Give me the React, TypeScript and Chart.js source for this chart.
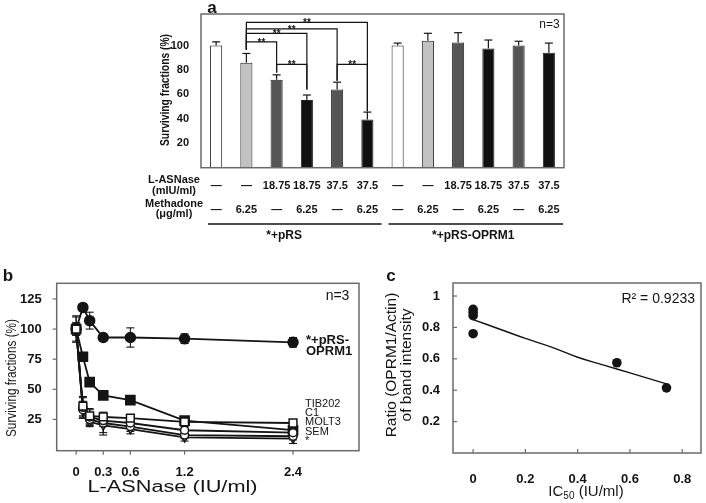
import React, { useEffect, useRef } from 'react';
import { Chart, registerables } from 'chart.js';

Chart.register(...registerables);

const FONT = '"Liberation Sans", Arial, Helvetica, sans-serif';
const W = 706;
const H = 503;
const INK = '#141414';

// ---------------- panel a ----------------
const aCategories = [
  'pRS ctrl', 'pRS Met', 'pRS ASN18.75', 'pRS ASN18.75+Met', 'pRS ASN37.5', 'pRS ASN37.5+Met',
  'OPRM1 ctrl', 'OPRM1 Met', 'OPRM1 ASN18.75', 'OPRM1 ASN18.75+Met', 'OPRM1 ASN37.5', 'OPRM1 ASN37.5+Met',
];
const aValues = [100, 86, 72, 55.5, 64, 39.5, 100, 104, 102.5, 97.5, 100, 94];
const aErrors = [3, 7.5, 4, 4, 6, 6, 2, 6, 8, 7, 3.5, 8];
const aColors = ['#ffffff', '#c2c2c2', '#555555', '#111111', '#555555', '#111111', '#ffffff', '#c2c2c2', '#555555', '#111111', '#555555', '#111111'];
const aAsnase = ['—', '—', '18.75', '18.75', '37.5', '37.5', '—', '—', '18.75', '18.75', '37.5', '37.5'];
const aMethadone = ['—', '6.25', '—', '6.25', '—', '6.25', '—', '6.25', '—', '6.25', '—', '6.25'];
const aYTicks = [20, 40, 60, 80, 100];
const aGroups = ['*+pRS', '*+pRS-OPRM1'];
// significance brackets (category index, value levels)
const aBracketFrom = [1, 1, 1, 1, 2, 4];
const aBracketTo = [2, 3, 4, 5, 3, 5];
const aBracketLevel = [103, 110, 113.7, 119, 84.5, 84.5];
const aBracketFromEnd = [96.5, 96.5, 96.5, 96.5, 78, 71];
const aBracketToEnd = [78, 64, 71.4, 46.3, 64, 46.3];

// ---------------- panel b ----------------
const bDoses = [0, 0.075, 0.15, 0.3, 0.6, 1.2, 2.4];
const bXTicks = [0, 0.3, 0.6, 1.2, 2.4];
const bYTicks = [25, 50, 75, 100, 125];
const bOPRM1 = [100, 118, 107, 93, 93, 92, 89];
const bOPRM1Err = [11, 3, 7, 3, 8, 4, 4];
const bParent = [100, 77, 56, 45, 41, 24, 16];
const bParentErr = [3, 3, 3, 2, 3, 2, 3];
const bTIB202 = [100, 36, 28, 27, 26, 23, 22];
const bTIB202Err = [10, 8, 6, 4, 3, 2, 2];
const bC1 = [100, 35, 27, 24, 22, 16, 14];
const bC1Err = [5, 8, 6, 5, 4, 3, 3];
const bMOLT3 = [100, 33, 25, 22, 19, 12, 11];
const bMOLT3Err = [5, 7, 5, 8, 4, 3, 3];
const bSEM = [100, 32, 23, 20, 17, 10, 9];
const bSEMErr = [5, 6, 4, 8, 4, 3, 4];
const bLineLabels = ['TIB202', 'C1', 'MOLT3', 'SEM', '*'];

// ---------------- panel c ----------------
const cIC50 = [0, 0, 0, 0, 0.55, 0.74];
const cRatio = [0.915, 0.895, 0.875, 0.76, 0.575, 0.415];
const cFitX = [0, 0.1, 0.2, 0.3, 0.4, 0.5, 0.6, 0.74];
const cFitY = [0.85, 0.79, 0.73, 0.675, 0.61, 0.56, 0.51, 0.44];
const cXTicks = [0, 0.2, 0.4, 0.6, 0.8];
const cYTicks = [0.2, 0.4, 0.6, 0.8, 1];

// ---------------- helpers ----------------
function seg(ctx: any, x1: number, y1: number, x2: number, y2: number) {
  ctx.beginPath();
  ctx.moveTo(x1, y1);
  ctx.lineTo(x2, y2);
  ctx.stroke();
}

function txt(ctx: any, s: string, x: number, y: number, font: string, opts: any = {}) {
  const { align = 'center', baseline = 'middle', width = 0, rot = 0, color = INK } = opts;
  ctx.save();
  ctx.font = font;
  ctx.fillStyle = color;
  ctx.textAlign = align;
  ctx.textBaseline = baseline;
  ctx.translate(x, y);
  if (rot) ctx.rotate(rot);
  if (width) {
    const m = ctx.measureText(s).width;
    if (m > 0) ctx.scale(width / m, 1);
  }
  ctx.fillText(s, 0, 0);
  ctx.restore();
}

function box(ctx: any, ar: any) {
  ctx.save();
  ctx.strokeStyle = '#6a6a6a';
  ctx.lineWidth = 1.5;
  ctx.strokeRect(ar.left, ar.top, ar.right - ar.left, ar.bottom - ar.top);
  ctx.restore();
}

const setTicks = (vals: number[]) => (scale: any) => {
  scale.ticks = vals.map((v) => ({ value: v }));
};

const noGrid = { display: false };
const noBorder = { display: false };

// ---------------- plugins ----------------
const aPlugin = {
  id: 'aPlugin',
  afterDatasetsDraw(chart: any) {
    const { ctx, chartArea: ar } = chart;
    const xs = chart.scales.x;
    const ys = chart.scales.y;
    const X = (i: number) => xs.getPixelForValue(i);
    const Y = (v: number) => ys.getPixelForValue(v);
    ctx.save();
    ctx.strokeStyle = INK;
    ctx.lineWidth = 1.2;
    aValues.forEach((v, i) => {
      const px = X(i);
      const t = Y(v + aErrors[i]);
      seg(ctx, px, Y(v), px, t);
      seg(ctx, px - 4, t, px + 4, t);
    });
    aBracketFrom.forEach((f, k) => {
      const x1 = X(f);
      const x2 = X(aBracketTo[k]);
      const h = Y(aBracketLevel[k]);
      ctx.beginPath();
      ctx.moveTo(x1, Y(aBracketFromEnd[k]));
      ctx.lineTo(x1, h);
      ctx.lineTo(x2, h);
      ctx.lineTo(x2, Y(aBracketToEnd[k]));
      ctx.stroke();
      txt(ctx, '**', (x1 + x2) / 2, h + 4, 'bold 10px ' + FONT, { baseline: 'alphabetic' });
    });
    ctx.restore();
    box(ctx, ar);

    // labels
    txt(ctx, 'a', 212, 8, 'bold 17px ' + FONT);
    txt(ctx, 'n=3', 549.5, 25, '12px ' + FONT);
    txt(ctx, 'Surviving fractions (%)', 166, 90, 'bold 12px ' + FONT, { rot: -Math.PI / 2, width: 112 });

    // table
    const f11 = 'bold 11px ' + FONT;
    txt(ctx, 'L-ASNase', 174, 180, f11);
    txt(ctx, '(mIU/ml)', 174, 191, f11);
    txt(ctx, 'Methadone', 174, 203.5, f11);
    txt(ctx, '(μg/ml)', 174, 213.5, f11);
    aAsnase.forEach((s, i) => txt(ctx, s, X(i), 185.5, f11));
    aMethadone.forEach((s, i) => txt(ctx, s, X(i), 210, f11));
    ctx.save();
    ctx.strokeStyle = INK;
    ctx.lineWidth = 1.5;
    const step = X(1) - X(0);
    seg(ctx, X(0) - 0.27 * step, 224, X(5) + 0.47 * step, 224);
    seg(ctx, X(6) - 0.3 * step, 224, X(11) + 0.47 * step, 224);
    ctx.restore();
    txt(ctx, aGroups[0], X(2.25), 236, 'bold 12px ' + FONT);
    txt(ctx, aGroups[1], X(8.5), 236, 'bold 12px ' + FONT);
  },
};

const bErrSets = [bTIB202Err, bC1Err, bMOLT3Err, bSEMErr, bOPRM1Err, bParentErr];
const bPlugin = {
  id: 'bPlugin',
  beforeDatasetsDraw(chart: any) {
    const { ctx } = chart;
    const xs = chart.scales.x;
    const ys = chart.scales.y;
    ctx.save();
    ctx.strokeStyle = INK;
    ctx.lineWidth = 1.1;
    chart.data.datasets.forEach((ds: any, k: number) => {
      const errs = bErrSets[k];
      ds.data.forEach((p: any, i: number) => {
        const px = xs.getPixelForValue(p.x);
        const lo = ys.getPixelForValue(p.y - errs[i]);
        const hi = ys.getPixelForValue(p.y + errs[i]);
        seg(ctx, px, lo, px, hi);
        seg(ctx, px - 4, lo, px + 4, lo);
        seg(ctx, px - 4, hi, px + 4, hi);
      });
    });
    ctx.restore();
  },
  afterDatasetsDraw(chart: any) {
    const { ctx, chartArea: ar } = chart;
    const xs = chart.scales.x;
    const ys = chart.scales.y;
    box(ctx, ar);
    ctx.save();
    ctx.strokeStyle = '#6a6a6a';
    ctx.lineWidth = 1.2;
    bXTicks.forEach((v) => {
      const px = xs.getPixelForValue(v);
      seg(ctx, px, ar.bottom, px, ar.bottom + 4);
    });
    bYTicks.forEach((v) => {
      const py = ys.getPixelForValue(v);
      seg(ctx, ar.left - 4, py, ar.left, py);
    });
    ctx.restore();
    txt(ctx, 'b', 8, 276, 'bold 17px ' + FONT);
    txt(ctx, 'n=3', 337.5, 296, '14px ' + FONT);
    txt(ctx, '*+pRS-', 306, 340, 'bold 13px ' + FONT, { align: 'left' });
    txt(ctx, 'OPRM1', 306, 351.5, 'bold 13px ' + FONT, { align: 'left' });
    const ly = [404, 413, 422, 431.5, 441];
    bLineLabels.forEach((s, i) => txt(ctx, s, 305, ly[i], '11px ' + FONT, { align: 'left' }));
    txt(ctx, 'L-ASNase (IU/ml)', 172.5, 488, '16px ' + FONT, { width: 170 });
    txt(ctx, 'Surviving fractions (%)', 12, 378, '15px ' + FONT, { rot: -Math.PI / 2, width: 118 });
  },
};

const cPlugin = {
  id: 'cPlugin',
  afterDatasetsDraw(chart: any) {
    const { ctx, chartArea: ar } = chart;
    const xs = chart.scales.x;
    const ys = chart.scales.y;
    box(ctx, ar);
    ctx.save();
    ctx.strokeStyle = '#6a6a6a';
    ctx.lineWidth = 1.2;
    cXTicks.forEach((v) => {
      const px = xs.getPixelForValue(v);
      seg(ctx, px, ar.bottom, px, ar.bottom - 4);
    });
    cYTicks.forEach((v) => {
      const py = ys.getPixelForValue(v);
      seg(ctx, ar.left, py, ar.left + 4, py);
    });
    ctx.restore();
    txt(ctx, 'c', 391, 276, 'bold 17px ' + FONT);
    txt(ctx, 'R² = 0.9233', 695, 299, '14px ' + FONT, { align: 'right' });
    txt(ctx, 'Ratio (OPRM1/Actin)', 392, 365, '15.5px ' + FONT, { rot: -Math.PI / 2 });
    txt(ctx, 'of band intensity', 407, 365, '15.5px ' + FONT, { rot: -Math.PI / 2 });
    // IC50 (IU/ml)
    ctx.save();
    const big = '15px ' + FONT;
    const small = '10px ' + FONT;
    ctx.font = big;
    const w1 = ctx.measureText('IC').width;
    const w3 = ctx.measureText(' (IU/ml)').width;
    ctx.font = small;
    const w2 = ctx.measureText('50').width;
    ctx.restore();
    const cx = 586;
    const y0 = 492;
    const start = cx - (w1 + w2 + w3) / 2;
    txt(ctx, 'IC', start, y0, big, { align: 'left' });
    txt(ctx, '50', start + w1, y0 + 4, small, { align: 'left' });
    txt(ctx, ' (IU/ml)', start + w1 + w2, y0, big, { align: 'left' });
  },
};

// ---------------- configs ----------------
function configA(): any {
  return {
    type: 'bar',
    data: {
      labels: aCategories,
      datasets: [
        {
          data: aValues,
          backgroundColor: aColors,
          borderColor: '#222222',
          borderWidth: 1,
          barPercentage: 0.4,
          categoryPercentage: 1,
        },
      ],
    },
    options: {
      responsive: false,
      animation: false,
      events: [],
      layout: { padding: { left: 0, top: 14, right: 142, bottom: 335.3 } },
      plugins: { legend: { display: false }, tooltip: { enabled: false } },
      scales: {
        x: { display: false, offset: true, grid: noGrid },
        y: {
          min: 0,
          max: 125.8,
          grid: noGrid,
          border: noBorder,
          afterBuildTicks: setTicks(aYTicks),
          afterFit: (s: any) => { s.width = 201; },
          ticks: { color: INK, font: { family: FONT, size: 11, weight: 'bold' }, padding: 4, callback: (v: any) => String(v) },
        },
      },
    },
    plugins: [aPlugin],
  };
}

function pts(xs: number[], ys: number[]) {
  return xs.map((x, i) => ({ x, y: ys[i] }));
}

function configB(): any {
  const base = { borderColor: INK, borderWidth: 1.8, pointBorderColor: INK, pointBorderWidth: 1.5 };
  return {
    type: 'line',
    data: {
      datasets: [
        { ...base, label: 'TIB202', data: pts(bDoses, bTIB202), pointStyle: 'rect', pointRadius: 5.5, pointBackgroundColor: '#ffffff' },
        { ...base, label: 'C1', data: pts(bDoses, bC1), pointStyle: 'circle', pointRadius: 4, pointBackgroundColor: '#ffffff' },
        { ...base, label: 'MOLT3', data: pts(bDoses, bMOLT3), pointStyle: 'circle', pointRadius: 4, pointBackgroundColor: '#ffffff' },
        { ...base, label: 'SEM', data: pts(bDoses, bSEM), pointStyle: 'triangle', pointRotation: 180, pointRadius: 4.5, pointBackgroundColor: '#ffffff' },
        { ...base, label: '*+pRS-OPRM1', data: pts(bDoses, bOPRM1), pointStyle: 'circle', pointRadius: 5, pointBackgroundColor: INK },
        { ...base, label: '*', data: pts(bDoses, bParent), pointStyle: 'rect', pointRadius: 6.5, pointBackgroundColor: INK },
      ],
    },
    options: {
      responsive: false,
      animation: false,
      events: [],
      layout: { padding: { left: 0, top: 283.3, right: 347, bottom: 0 } },
      plugins: { legend: { display: false }, tooltip: { enabled: false } },
      scales: {
        x: {
          type: 'linear',
          min: -0.215,
          max: 3.13,
          grid: noGrid,
          border: noBorder,
          afterBuildTicks: setTicks(bXTicks),
          afterFit: (s: any) => { s.height = 52.3; },
          ticks: { color: INK, font: { family: FONT, size: 13, weight: 'bold' }, padding: 6, maxRotation: 0, autoSkip: false, callback: (v: any) => String(v) },
        },
        y: {
          type: 'linear',
          min: -1,
          max: 138,
          grid: noGrid,
          border: noBorder,
          afterBuildTicks: setTicks(bYTicks),
          afterFit: (s: any) => { s.width = 56.7; },
          ticks: { color: INK, font: { family: FONT, size: 13, weight: 'bold' }, padding: 7, callback: (v: any) => String(v) },
        },
      },
    },
    plugins: [bPlugin],
  };
}

function configC(): any {
  return {
    type: 'line',
    data: {
      datasets: [
        { label: 'fit', data: pts(cFitX, cFitY), borderColor: INK, borderWidth: 1.4, pointRadius: 0, tension: 0.4 },
        { label: 'cells', data: pts(cIC50, cRatio), showLine: false, pointRadius: 4.8, pointBackgroundColor: INK, pointBorderColor: INK, pointBorderWidth: 0 },
      ],
    },
    options: {
      responsive: false,
      animation: false,
      events: [],
      layout: { padding: { left: 0, top: 283, right: 5, bottom: 0 } },
      plugins: { legend: { display: false }, tooltip: { enabled: false } },
      scales: {
        x: {
          type: 'linear',
          min: -0.077,
          max: 0.872,
          grid: noGrid,
          border: noBorder,
          afterBuildTicks: setTicks(cXTicks),
          afterFit: (s: any) => { s.height = 50; },
          ticks: { color: INK, font: { family: FONT, size: 13, weight: 'bold' }, padding: 11, maxRotation: 0, autoSkip: false, callback: (v: any) => String(v) },
        },
        y: {
          type: 'linear',
          min: 0,
          max: 1.083,
          grid: noGrid,
          border: noBorder,
          afterBuildTicks: setTicks(cYTicks),
          afterFit: (s: any) => { s.width = 453; },
          ticks: { color: INK, font: { family: FONT, size: 13, weight: 'bold' }, padding: 5, callback: (v: any) => String(v) },
        },
      },
    },
    plugins: [cPlugin],
  };
}

export default function App() {
  const aRef = useRef<HTMLCanvasElement>(null);
  const bRef = useRef<HTMLCanvasElement>(null);
  const cRef = useRef<HTMLCanvasElement>(null);

  useEffect(() => {
    const charts = [
      new Chart(aRef.current as HTMLCanvasElement, configA()),
      new Chart(bRef.current as HTMLCanvasElement, configB()),
      new Chart(cRef.current as HTMLCanvasElement, configC()),
    ];
    return () => charts.forEach((c) => c.destroy());
  }, []);

  const cs: any = { position: 'absolute', left: 0, top: 0, width: W, height: H };
  return (
    <div style={{ position: 'absolute', left: 0, top: 0, width: W, height: H, background: '#ffffff', overflow: 'hidden' }}>
      <canvas ref={aRef} width={W} height={H} style={cs} />
      <canvas ref={bRef} width={W} height={H} style={cs} />
      <canvas ref={cRef} width={W} height={H} style={cs} />
    </div>
  );
}
